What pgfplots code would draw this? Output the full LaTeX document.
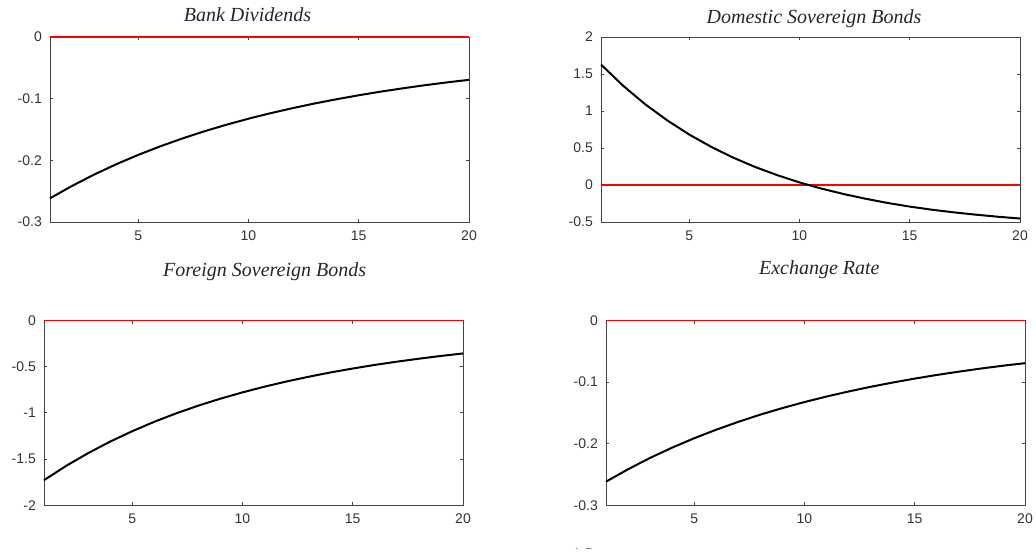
\documentclass[border=0pt]{standalone}
\usepackage{fontspec}
\setmainfont{Liberation Serif}
\setsansfont{Liberation Sans}
\usepackage{pgfplots}
\pgfplotsset{compat=1.18}

\definecolor{AxisGray}{HTML}{444444}
\definecolor{LabelGray}{HTML}{333333}

\pgfplotstableread{
x y
1 -0.2616
2 -0.2415
3 -0.2231
4 -0.2064
5 -0.1912
6 -0.1773
7 -0.1646
8 -0.1529
9 -0.1423
10 -0.1325
11 -0.1236
12 -0.1154
13 -0.1078
14 -0.1009
15 -0.0945
16 -0.0886
17 -0.0832
18 -0.0782
19 -0.0736
20 -0.0695
}\dividends

\pgfplotstableread{
x y
1 1.628
2 1.342
3 1.092
4 0.874
5 0.682
6 0.515
7 0.369
8 0.242
9 0.132
10 0.035
11 -0.049
12 -0.122
13 -0.186
14 -0.243
15 -0.292
16 -0.334
17 -0.370
18 -0.401
19 -0.429
20 -0.453
}\domestic

\pgfplotstableread{
x y
1 -1.728
2 -1.574
3 -1.436
4 -1.311
5 -1.199
6 -1.097
7 -1.005
8 -0.922
9 -0.847
10 -0.779
11 -0.717
12 -0.661
13 -0.610
14 -0.563
15 -0.521
16 -0.482
17 -0.447
18 -0.415
19 -0.385
20 -0.358
}\fsbonds

\pgfplotstableread{
x y
1 -0.2616
2 -0.2415
3 -0.2231
4 -0.2064
5 -0.1912
6 -0.1773
7 -0.1646
8 -0.1529
9 -0.1423
10 -0.1325
11 -0.1236
12 -0.1154
13 -0.1078
14 -0.1009
15 -0.0945
16 -0.0886
17 -0.0832
18 -0.0782
19 -0.0736
20 -0.0695
}\exchange

\pgfplotsset{
  irf/.style={
    scale only axis,width=314.25pt,height=138.75pt,anchor=south west,
    xmin=1,xmax=20,xtick={5,10,15,20},clip=false,axis on top=false,
    axis line style={AxisGray,line width=0.6pt},
    tick style={AxisGray,line width=0.6pt},
    major tick length=2.6pt,tick align=inside,
    /pgf/number format/assume math mode=true,
    tick label style={font=\sffamily\fontsize{10.5}{12}\selectfont,text=LabelGray},
    yticklabel style={xshift=-2.6pt},
    xticklabel style={yshift=-2.8pt},
  },
  zero/.style={red,line width=1.1pt},
  curve/.style={black,line width=1.5pt,line join=round},
}

\begin{document}
\begin{tikzpicture}
  \useasboundingbox (0,0) rectangle (777pt,417pt);
  \begin{axis}[irf,at={(37.5pt,250.5pt)},ymin=-0.3,ymax=0,ytick={-0.3,-0.2,-0.1,0}]
    \addplot[curve] table {\dividends};
    \addplot[zero] coordinates {(1,0) (20,0)};
  \end{axis}
  \begin{axis}[irf,at={(450.75pt,250.5pt)},ymin=-0.5,ymax=2,ytick={-0.5,0,0.5,1,1.5,2}]
    \addplot[red,line width=0.9pt] coordinates {(1,0) (20,0)};
    \addplot[curve] table {\domestic};
  \end{axis}
  \begin{axis}[irf,at={(33pt,38pt)},ymin=-2,ymax=0,ytick={-2,-1.5,-1,-0.5,0}]
    \addplot[curve] table {\fsbonds};
    \addplot[zero] coordinates {(1,0) (20,0)};
  \end{axis}
  \begin{axis}[irf,at={(454.5pt,38pt)},ymin=-0.3,ymax=0,ytick={-0.3,-0.2,-0.1,0}]
    \addplot[curve] table {\exchange};
    \addplot[zero] coordinates {(1,0) (20,0)};
  \end{axis}
  \begin{scope}[font=\itshape\fontsize{15}{18}\selectfont,text=black!85]
    \node[anchor=base] at (185.6pt,400.7pt) {Bank Dividends};
    \node[anchor=base] at (610.5pt,399.5pt) {Domestic Sovereign Bonds};
    \node[anchor=base] at (198.5pt,209.5pt) {Foreign Sovereign Bonds};
    \node[anchor=base] at (614.5pt,210.75pt) {Exchange Rate};
  \end{scope}
  \begin{scope}
    \clip (400pt,5.5pt) rectangle (500pt,20pt);
    \node[anchor=base east,font=\sffamily\fontsize{10.5}{12}\selectfont,text=LabelGray] at (448pt,-2pt) {-1.5};
  \end{scope}
\end{tikzpicture}
\end{document}
